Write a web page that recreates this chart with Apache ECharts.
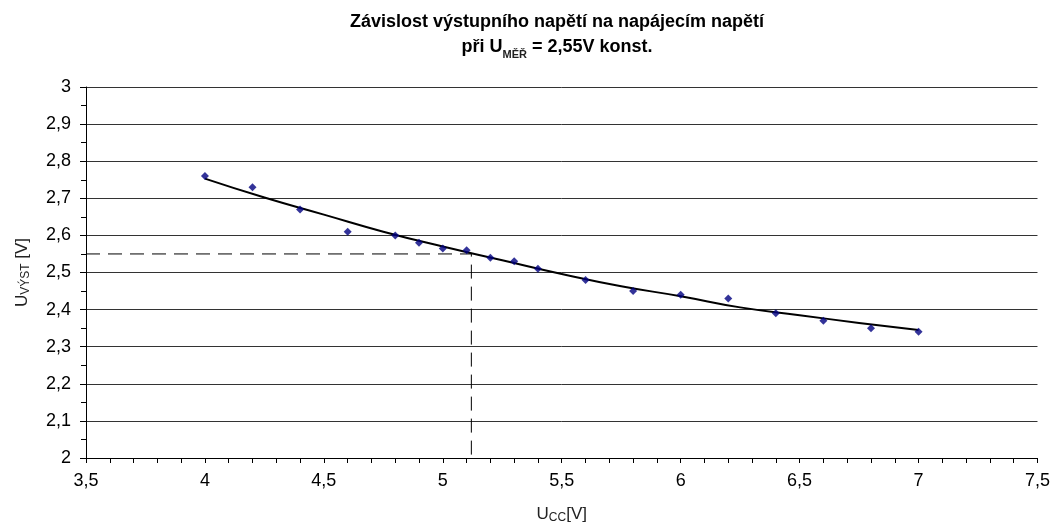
<!DOCTYPE html>
<html>
<head>
<meta charset="utf-8">
<script src="https://cdn.jsdelivr.net/npm/echarts@6/dist/echarts.min.js"></script>
<style>html,body{margin:0;padding:0;background:#fff;}#c{width:1053px;height:529px;}</style>
</head>
<body>
<div id="c"></div>
<script>
// measured points
var ucc = [4, 4.2, 4.4, 4.6, 4.8, 4.9, 5.0, 5.1, 5.2, 5.3, 5.4, 5.6, 5.8, 6.0, 6.2, 6.4, 6.6, 6.8, 7.0];
var uvyst = [2.76, 2.73, 2.67, 2.61, 2.60, 2.58, 2.565, 2.56, 2.54, 2.53, 2.51, 2.48, 2.45, 2.44, 2.43, 2.39, 2.37, 2.35, 2.34];
// trend line
var trendX = [4, 4.25, 4.5, 4.75, 5.0, 5.25, 5.5, 5.75, 6.0, 6.25, 6.5, 6.75, 7.0];
var trendY = [2.753, 2.702, 2.656, 2.610, 2.570, 2.533, 2.496, 2.463, 2.436, 2.406, 2.385, 2.364, 2.345];
// working point guide
var guideX = [3.5, 5.12, 5.12];
var guideY = [2.55, 2.55, 2.0];

function zip(a, b) { return a.map(function (v, i) { return [v, b[i]]; }); }
function fmt(v) { return (Math.round(v * 100) / 100).toString().replace('.', ','); }

var chart = echarts.init(document.getElementById('c'));
var font = 'Liberation Sans, Arial, sans-serif';
chart.setOption({
  animation: false,
  textStyle: { fontFamily: font },
  title: {
    left: 552, top: 5, textAlign: 'center',
    text: '{b|Závislost výstupního napětí na napájecím napětí}\n{b|při U}{s|MĚŘ}{b| = 2,55V konst.}',
    textStyle: {
      rich: {
        b: { fontFamily: font, fontWeight: 'bold', fontSize: 18, color: '#000', lineHeight: 25 },
        s: { fontFamily: font, fontWeight: 'bold', fontSize: 11, color: '#222', lineHeight: 14, verticalAlign: 'bottom' }
      }
    }
  },
  grid: { left: 86, right: 15, top: 87, bottom: 70 },
  xAxis: {
    type: 'value', min: 3.5, max: 7.5, interval: 0.5,
    name: '{m|U}{s|CC}{m|[V]}', nameLocation: 'middle', nameGap: 46,
    nameTextStyle: { rich: {
      m: { fontFamily: font, fontSize: 17, color: '#222', lineHeight: 20 },
      s: { fontFamily: font, fontSize: 12, color: '#222', lineHeight: 13, verticalAlign: 'bottom' }
    } },
    axisLine: { lineStyle: { color: '#000', width: 1 } },
    axisTick: { show: true, length: 5, lineStyle: { color: '#000' } },
    minorTick: { show: true, splitNumber: 5, length: 5, lineStyle: { color: '#000' } },
    splitLine: { show: false },
    axisLabel: { color: '#000', fontSize: 18, margin: 14, formatter: fmt }
  },
  yAxis: {
    type: 'value', min: 2, max: 3, interval: 0.1,
    name: '{m|U}{s|VÝST}{m| [V]}', nameLocation: 'middle', nameGap: 54, nameRotate: 90,
    nameTextStyle: { rich: {
      m: { fontFamily: font, fontSize: 17, color: '#222', lineHeight: 20 },
      s: { fontFamily: font, fontSize: 12, color: '#222', lineHeight: 13, verticalAlign: 'bottom' }
    } },
    axisLine: { show: true, lineStyle: { color: '#000', width: 1 } },
    axisTick: { show: true, length: 6, lineStyle: { color: '#000' } },
    minorTick: { show: true, splitNumber: 2, length: 5, lineStyle: { color: '#000' } },
    splitLine: { show: true, lineStyle: { color: '#333', width: 1 } },
    axisLabel: { color: '#000', fontSize: 18, margin: 15, formatter: fmt }
  },
  series: [
    {
      type: 'line', data: zip(guideX, guideY), symbol: 'none', silent: true,
      lineStyle: { color: '#000', width: 1, type: [14, 8] }, z: 1
    },
    {
      type: 'line', data: zip(trendX, trendY), symbol: 'none', smooth: true,
      lineStyle: { color: '#000', width: 2 }, z: 2
    },
    {
      type: 'scatter', data: zip(ucc, uvyst), symbol: 'diamond', symbolSize: 8,
      itemStyle: { color: '#000080' }, z: 3
    }
  ]
});
</script>
</body>
</html>
